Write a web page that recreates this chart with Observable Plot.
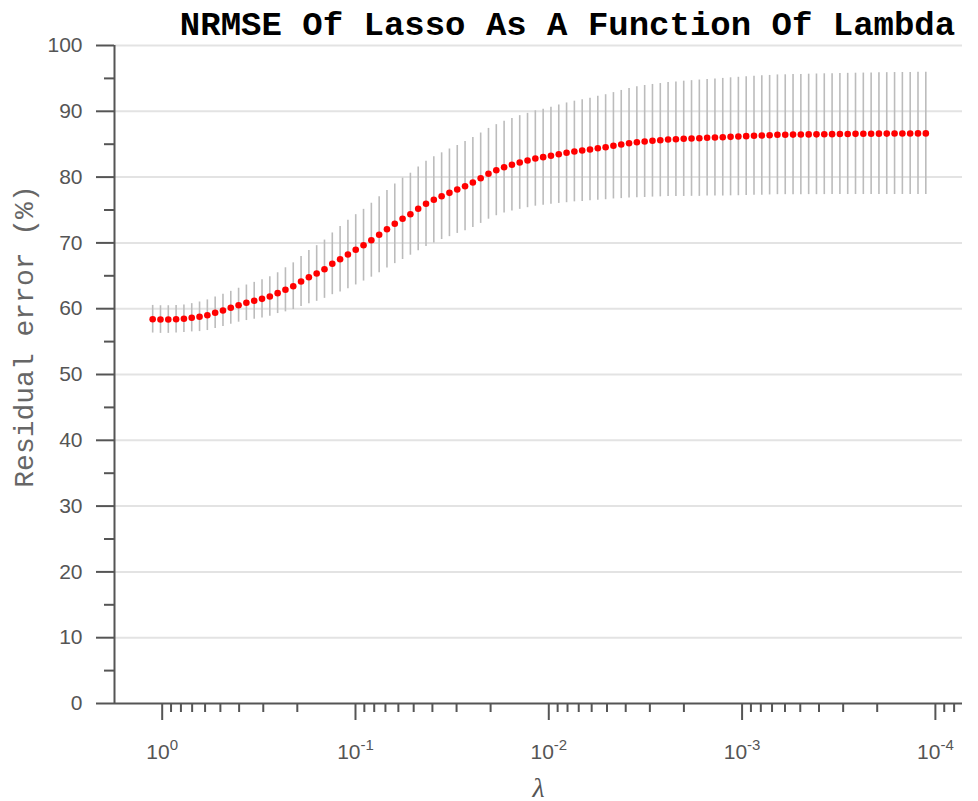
<!DOCTYPE html>
<html>
<head>
<meta charset="utf-8">
<script src="https://cdn.jsdelivr.net/npm/d3@7"></script>
<script src="https://cdn.jsdelivr.net/npm/@observablehq/plot@0.6"></script>
<style>
  html, body { margin: 0; padding: 0; background: #fff; }
  #chart { width: 978px; height: 801px; }
</style>
</head>
<body>
<div id="chart"></div>
<script>
// ---- Data ----
const lambdaValues = [
  1.120, 1.0205, 0.92984, 0.84724, 0.77197, 0.70339, 0.64091, 0.58397, 0.53209, 0.48482,
  0.44179, 0.40254, 0.36678, 0.33420, 0.30451, 0.27746, 0.25281, 0.23035, 0.20989, 0.19124,
  0.17427, 0.15879, 0.14468, 0.13183, 0.12012, 0.10945, 0.099722, 0.090863, 0.082791, 0.075436,
  0.068741, 0.062634, 0.057070, 0.052000, 0.047381, 0.043172, 0.039336, 0.035842, 0.032658, 0.029756,
  0.027115, 0.024706, 0.022511, 0.020512, 0.018690, 0.017029, 0.015516, 0.014138, 0.012882, 0.011738,
  0.010696, 0.0097456, 0.0088798, 0.0080910, 0.0073722, 0.0067173, 0.0061205, 0.0055768, 0.0050814, 0.0046300,
  0.0042190, 0.0038442, 0.0035027, 0.0031915, 0.0029080, 0.0026497, 0.0024143, 0.0021998, 0.0020044, 0.0018263,
  0.0016642, 0.0015164, 0.0013817, 0.0012589, 0.0011471, 0.0010452, 0.00095232, 0.00086772, 0.00079064, 0.00072040,
  0.00065647, 0.00059815, 0.00054501, 0.00049659, 0.00045248, 0.00041228, 0.00037565, 0.00034228, 0.00031188, 0.00028417,
  0.00025894, 0.00023594, 0.00021498, 0.00019588, 0.00017848, 0.00016262, 0.00014818, 0.00013501, 0.00012302, 0.00011209
];
const meanError = [
  58.40, 58.35, 58.35, 58.40, 58.47, 58.62, 58.77, 59.01, 59.38, 59.73,
  60.14, 60.53, 60.90, 61.20, 61.50, 61.85, 62.36, 62.87, 63.42, 64.13,
  64.79, 65.35, 66.00, 66.82, 67.52, 68.24, 68.95, 69.65, 70.41, 71.23,
  72.08, 72.90, 73.66, 74.36, 75.18, 75.94, 76.55, 77.10, 77.61, 78.12,
  78.62, 79.18, 79.83, 80.50, 81.05, 81.50, 81.87, 82.22, 82.52, 82.83,
  83.03, 83.24, 83.48, 83.69, 83.89, 84.04, 84.19, 84.39, 84.54, 84.76,
  84.95, 85.15, 85.30, 85.41, 85.52, 85.61, 85.71, 85.76, 85.82, 85.87,
  85.91, 85.97, 86.02, 86.06, 86.12, 86.17, 86.22, 86.28, 86.32, 86.37,
  86.43, 86.44, 86.46, 86.47, 86.49, 86.50, 86.52, 86.53, 86.55, 86.56,
  86.57, 86.58, 86.59, 86.60, 86.61, 86.62, 86.63, 86.63, 86.64, 86.64
];
const stdError = [
  2.10, 2.10, 2.10, 2.10, 2.10, 2.15, 2.25, 2.33, 2.38, 2.45,
  2.50, 2.58, 2.70, 2.80, 2.90, 3.00, 3.10, 3.35, 3.55, 3.80,
  4.05, 4.23, 4.43, 4.69, 4.99, 5.19, 5.34, 5.45, 5.62, 5.78,
  5.90, 6.05, 6.18, 6.23, 6.36, 6.48, 6.56, 6.59, 6.66, 6.68,
  6.79, 6.85, 6.87, 6.90, 6.92, 6.97, 7.04, 7.12, 7.17, 7.25,
  7.30, 7.38, 7.48, 7.58, 7.65, 7.73, 7.80, 7.90, 7.98, 8.08,
  8.22, 8.33, 8.43, 8.51, 8.56, 8.61, 8.66, 8.71, 8.76, 8.79,
  8.84, 8.86, 8.90, 8.94, 8.97, 9.00, 9.02, 9.04, 9.07, 9.08,
  9.10, 9.11, 9.13, 9.14, 9.15, 9.17, 9.18, 9.19, 9.20, 9.21,
  9.22, 9.23, 9.24, 9.25, 9.26, 9.27, 9.27, 9.28, 9.28, 9.29
];
const yMajorTicks = [0, 10, 20, 30, 40, 50, 60, 70, 80, 90, 100];
const yMinorTicks = [5, 15, 25, 35, 45, 55, 65, 75, 85, 95];
const xMajorTicks = [1, 0.1, 0.01, 0.001, 0.0001];
const xMinorMultipliers = [2, 3, 4, 5, 6, 7, 8, 9];
const xDomain = [1.765, 0.0000724];
const yDomain = [0, 100];
const titleText = "NRMSE Of Lasso As A Function Of Lambda";
const yLabelText = "Residual error (%)";
const xLabelText = "λ";

// ---- Derived table ----
const table = lambdaValues.map((l, i) => ({
  lambda: l, mean: meanError[i], lo: meanError[i] - stdError[i], hi: meanError[i] + stdError[i]
}));
const xMinorTicks = xMajorTicks.flatMap(m => xMinorMultipliers.map(k => k * m / 10))
  .filter(v => v <= xDomain[0] && v >= xDomain[1]);

const axisColor = "#555555";

const chart = Plot.plot({
  width: 978,
  height: 801,
  marginTop: 45,
  marginLeft: 114,
  marginRight: 16,
  marginBottom: 98,
  style: { background: "white", fontFamily: "'Liberation Sans', Arial, sans-serif", overflow: "visible" },
  x: { type: "log", domain: xDomain },
  y: { domain: yDomain },
  marks: [
    Plot.gridY(yMajorTicks.slice(1), { stroke: "#e3e3e3", strokeOpacity: 1, strokeWidth: 2 }),
    Plot.ruleX(table, { x: "lambda", y1: "lo", y2: "hi", stroke: "#bcbcbc", strokeWidth: 1.6 }),
    Plot.dot(table, { x: "lambda", y: "mean", r: 3.3, fill: "#ff0000", stroke: null }),
    Plot.ruleY([yDomain[0]], { stroke: axisColor, strokeWidth: 2 }),
    Plot.ruleX([xDomain[0]], { stroke: axisColor, strokeWidth: 2 }),
    Plot.axisY(yMajorTicks, { tickSize: 18, tickPadding: 14, fontSize: 21, color: axisColor, strokeWidth: 2, label: null }),
    Plot.axisY(yMinorTicks, { tickSize: 10, tickFormat: () => "", color: axisColor, strokeWidth: 2, label: null }),
    Plot.axisX(xMajorTicks, { tickSize: 17, tickPadding: 24, fontSize: 21, color: axisColor, strokeWidth: 2, label: null,
      tickFormat: d => "10^" + Math.round(Math.log10(d)) }),
    Plot.axisX(xMinorTicks, { tickSize: 9, tickFormat: () => "", color: axisColor, strokeWidth: 2, label: null }),
    Plot.text([titleText], { frameAnchor: "top", dx: 29, dy: -35, fontFamily: "'Liberation Mono', 'Courier New', monospace",
      fontWeight: "bold", fontSize: 34, fill: "#000" }),
    Plot.text([yLabelText], { frameAnchor: "left", textAnchor: "middle", rotate: -90, dx: -90, dy: -38,
      fontFamily: "'Liberation Mono', 'Courier New', monospace", fontSize: 28, fill: "#666" }),
    Plot.text([xLabelText], { frameAnchor: "bottom", dy: 93, fontStyle: "italic",
      fontFamily: "'Liberation Serif', 'Times New Roman', serif", fontSize: 28, fill: axisColor })
  ]
});

// Superscript exponents on the x tick labels
chart.querySelectorAll("text").forEach(t => {
  const m = /^10\^(-?\d+)$/.exec(t.textContent);
  if (m) {
    t.textContent = "10";
    const sup = document.createElementNS("http://www.w3.org/2000/svg", "tspan");
    sup.setAttribute("dy", "-9");
    sup.setAttribute("font-size", "15");
    sup.textContent = m[1];
    t.appendChild(sup);
  }
});

document.getElementById("chart").appendChild(chart);
</script>
</body>
</html>
